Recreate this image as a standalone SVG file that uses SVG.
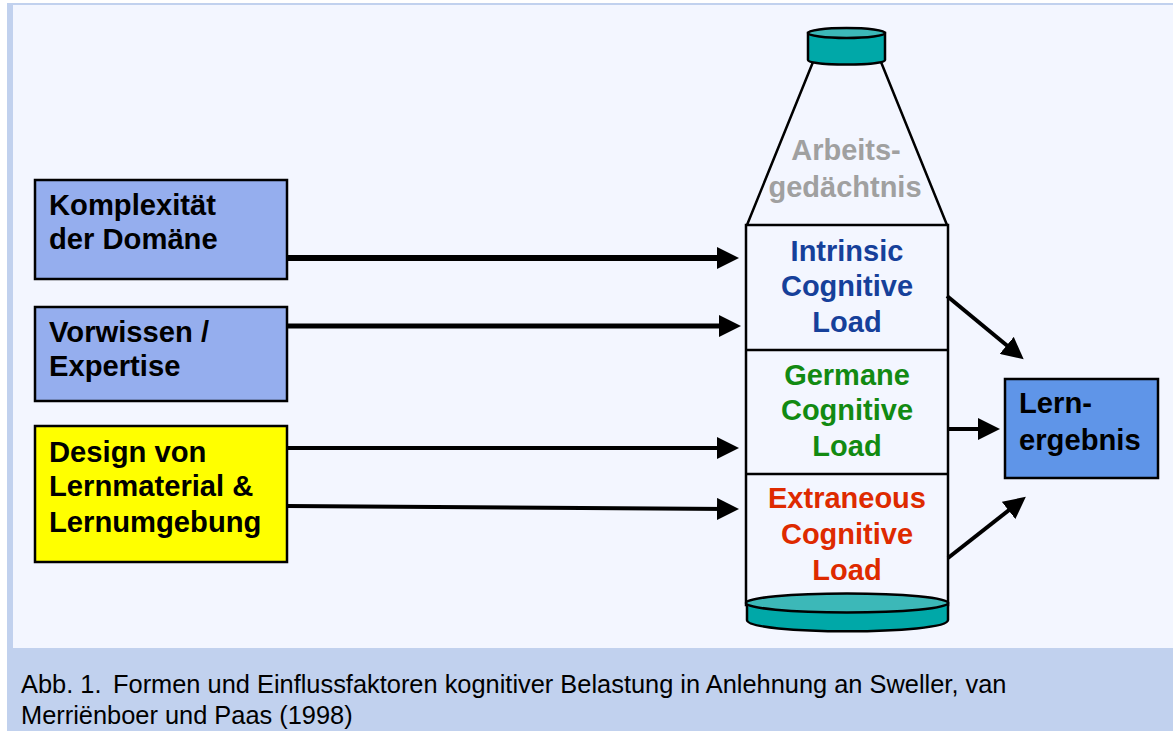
<svg xmlns="http://www.w3.org/2000/svg" width="1173" height="731" viewBox="0 0 1173 731">
<style>
text{font-family:"Liberation Sans",Arial,sans-serif}
.b{font-weight:700;font-size:29.2px;fill:#000}
.c{font-weight:700;font-size:29px;text-anchor:middle}
.box{stroke:#000;stroke-width:2.5}
.l{stroke:#000;fill:none}
.teal{fill:#00a8a8;stroke:#000;stroke-width:2.5}
.tl{fill:#3cb8b8;stroke:#000;stroke-width:2.5}
.cap{font-size:25.4px;fill:#000}
</style>
<defs>
<marker id="a" markerUnits="userSpaceOnUse" markerWidth="24" markerHeight="22" refX="12" refY="11" orient="auto"><path d="M0 0L22 11L0 22Z" fill="#000"/></marker>
</defs>
<rect id="bg" x="0" y="0" width="1173" height="731" fill="#c1d1ee"/>
<rect x="0" y="0" width="7" height="731" fill="#ffffff"/>
<rect x="0" y="0" width="1173" height="3" fill="#ffffff"/>
<rect x="13" y="5" width="1160" height="643" fill="#f3f6ff"/>
<g id="bottle">
<path class="l" stroke-width="2.5" d="M813 62L747 225M881 62L947 225"/>
<rect x="746" y="225" width="202" height="380" fill="none" stroke="#000" stroke-width="2.5"/>
<path class="l" stroke-width="2.5" d="M746 350H948M746 474H948"/>
<path class="teal" d="M808 33V60C808 66 885 66 885 60V33Z"/>
<ellipse class="tl" cx="846.500" cy="33" rx="38.500" ry="5"/>
<path class="teal" d="M747 603V620C747 635 948 635 948 620V603Z"/>
<ellipse class="tl" cx="847" cy="603" rx="101" ry="9.500"/>
</g>
<g id="n-arbeit"><text class="c" x="846" y="160" fill="#a0a0a0">Arbeits-</text><text class="c" x="845" y="197" fill="#a0a0a0">gedächtnis</text></g>
<g id="n-intrinsic" fill="#16409a"><text class="c" x="847" y="261">Intrinsic</text><text class="c" x="847" y="296">Cognitive</text><text class="c" x="847" y="332">Load</text></g>
<g id="n-germane" fill="#128a12"><text class="c" x="847" y="385">Germane</text><text class="c" x="847" y="420">Cognitive</text><text class="c" x="847" y="456">Load</text></g>
<g id="n-extraneous" fill="#de2a00"><text class="c" x="847" y="508">Extraneous</text><text class="c" x="847" y="544">Cognitive</text><text class="c" x="847" y="580">Load</text></g>
<g id="n-komplex"><rect class="box" x="35" y="180" width="252" height="99" fill="#95aeee"/><text class="b" x="49" y="215">Komplexität</text><text class="b" x="49" y="249">der Domäne</text></g>
<g id="n-vorwissen"><rect class="box" x="35" y="307" width="252" height="94" fill="#95aeee"/><text class="b" x="49" y="342">Vorwissen /</text><text class="b" x="49" y="376">Expertise</text></g>
<g id="n-design"><rect class="box" x="35" y="426" width="252" height="136" fill="#ffff00"/><text class="b" x="49" y="462">Design von</text><text class="b" x="49" y="496">Lernmaterial &amp;</text><text class="b" x="49" y="532">Lernumgebung</text></g>
<g id="n-ergebnis"><rect class="box" x="1005" y="379" width="153" height="99" fill="#5f95e8"/><text class="b" x="1019" y="413">Lern-</text><text class="b" x="1019" y="450">ergebnis</text></g>
<g id="connectors">
<path class="l" stroke-width="6" marker-end="url(#a)" d="M287 258H729"/>
<path class="l" stroke-width="5" marker-end="url(#a)" d="M287 326H731"/>
<path class="l" stroke-width="4" marker-end="url(#a)" d="M287 448H729"/>
<path class="l" stroke-width="4" marker-end="url(#a)" d="M287 506L729 509"/>
<path class="l" stroke-width="4" marker-end="url(#a)" d="M947 296L1016 353"/>
<path class="l" stroke-width="4" marker-end="url(#a)" d="M948 429H990"/>
<path class="l" stroke-width="4" marker-end="url(#a)" d="M948 558L1018 503"/>
</g>
<g id="caption"><text class="cap" x="21" y="693">Abb. 1.<tspan x="113">Formen und Einflussfaktoren kognitiver Belastung in Anlehnung an Sweller, van</tspan></text><text class="cap" x="21" y="724">Merriënboer und Paas (1998)</text></g>
</svg>
